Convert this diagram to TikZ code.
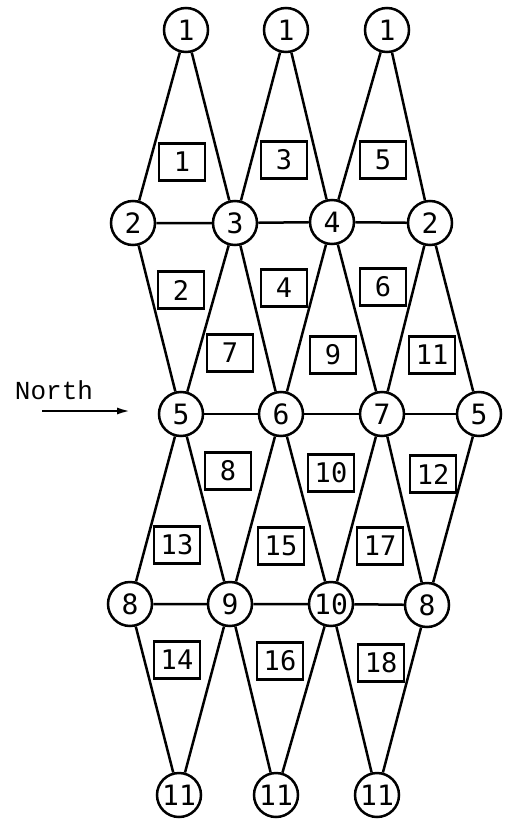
\documentclass[tikz,border=0pt]{standalone}
\usepackage{fontspec}
\newfontfamily\digitfont{DejaVu Sans Mono}
\newfontfamily\couriersf{Liberation Mono}
\usetikzlibrary{arrows.meta}
\tikzset{
  vtx/.style={circle,draw,line width=2.5pt,minimum size=44pt,inner sep=0pt,font=\digitfont\fontsize{28}{28}\selectfont},
  elem/.style={rectangle,draw,line width=2.5pt,minimum width=46pt,minimum height=37pt,inner sep=0pt,font=\digitfont\fontsize{27}{27}\selectfont},
  edge/.style={line width=2.5pt}
}
\begin{document}
\begin{tikzpicture}[x=1pt,y=-1pt]
\useasboundingbox (0,0) rectangle (505,821);
% vertices
\node[vtx] (a1) at (186,30) {1};
\node[vtx] (a2) at (286,30) {1};
\node[vtx] (a3) at (387,30) {1};
\node[vtx] (b1) at (133,223) {2};
\node[vtx] (b2) at (235,223) {3};
\node[vtx] (b3) at (332,222) {4};
\node[vtx] (b4) at (430,223) {2};
\node[vtx] (c1) at (181,414) {5};
\node[vtx] (c2) at (281,414) {6};
\node[vtx] (c3) at (382,414) {7};
\node[vtx] (c4) at (479,414) {5};
\node[vtx] (d1) at (130,604) {8};
\node[vtx] (d2) at (230,604) {9};
\node[vtx] (d3) at (331,604) {10};
\node[vtx] (d4) at (427,605) {8};
\node[vtx] (e1) at (179,795) {11};
\node[vtx] (e2) at (276,795) {11};
\node[vtx] (e3) at (377,795) {11};
% edges
\draw[edge] (a1)--(b1) (a1)--(b2) (a2)--(b2) (a2)--(b3) (a3)--(b3) (a3)--(b4);
\draw[edge] (b1)--(b2) (b2)--(b3) (b3)--(b4);
\draw[edge] (b1)--(c1) (b2)--(c1) (b2)--(c2) (b3)--(c2) (b3)--(c3) (b4)--(c3) (b4)--(c4);
\draw[edge] (c1)--(c2) (c2)--(c3) (c3)--(c4);
\draw[edge] (c1)--(d1) (c1)--(d2) (c2)--(d2) (c2)--(d3) (c3)--(d3) (c3)--(d4) (c4)--(d4);
\draw[edge] (d1)--(d2) (d2)--(d3) (d3)--(d4);
\draw[edge] (d1)--(e1) (d2)--(e1) (d2)--(e2) (d3)--(e2) (d3)--(e3) (d4)--(e3);
% elements
\node[elem] (q1) at (182,162) {1};
\node[elem] (q3) at (284,160) {3};
\node[elem] (q5) at (383,160) {5};
\node[elem] (q2) at (181,290) {2};
\node[elem] (q4) at (284,288) {4};
\node[elem] (q6) at (383,287) {6};
\node[elem] (q7) at (230,353) {7};
\node[elem] (q9) at (333,355) {9};
\node[elem] (q11) at (432,355) {11};
\node[elem] (q8) at (228,471) {8};
\node[elem] (q10) at (331,473) {10};
\node[elem] (q12) at (433,474) {12};
\node[elem] (q13) at (177,545) {13};
\node[elem] (q15) at (281,546) {15};
\node[elem] (q17) at (380,546) {17};
\node[elem] (q14) at (177,660) {14};
\node[elem] (q16) at (280,661) {16};
\node[elem] (q18) at (381,663) {18};
% north arrow
\node[font=\couriersf\fontsize{26}{26}\selectfont] (north) at (54,390) {North};
\coordinate (nA) at (42,411);
\coordinate (nB) at (131,411);
\draw[edge,-{Latex[length=14pt,width=7pt]}] (nA)--(nB);
\end{tikzpicture}
\end{document}
